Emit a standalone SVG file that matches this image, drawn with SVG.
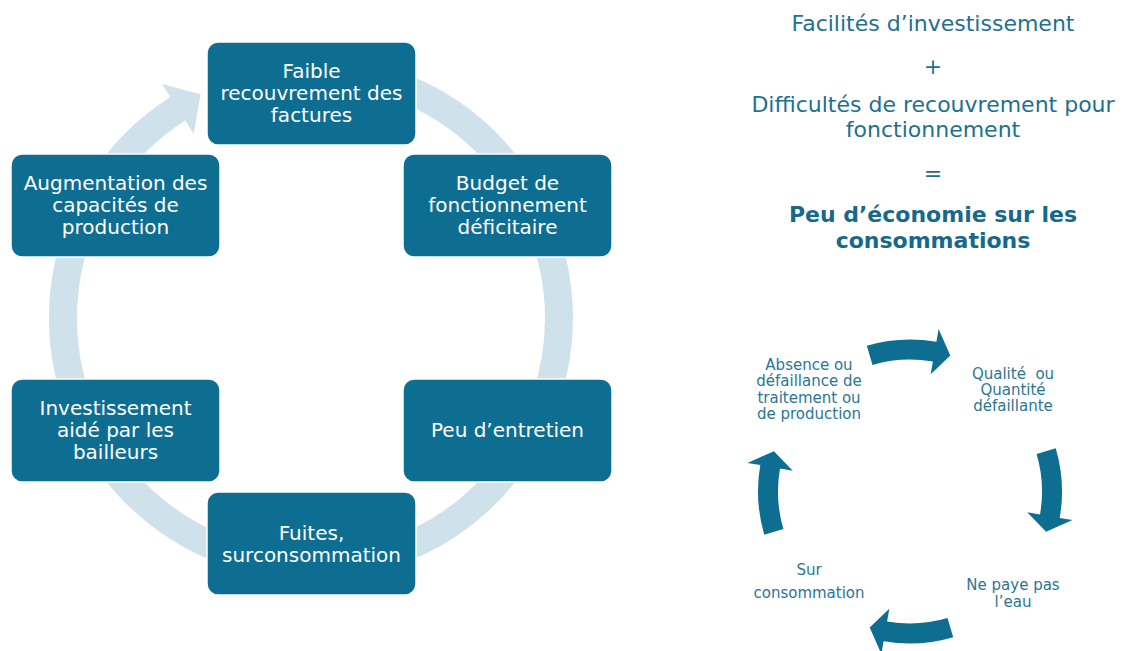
<svg xmlns="http://www.w3.org/2000/svg" width="1123" height="651" viewBox="0 0 1123 651">
<style>
.box{fill:#0e6e92;stroke:#ffffff;stroke-width:1.5}
.bt{font-family:"DejaVu Sans",Verdana,sans-serif;font-size:20px;fill:#ffffff;text-anchor:middle}
.ht{font-family:"DejaVu Sans",Verdana,sans-serif;font-size:22px;fill:#22708f;text-anchor:middle}
.hb{font-weight:bold;fill:#17698b}
.st{font-family:"DejaVu Sans",Verdana,sans-serif;font-size:15px;fill:#2a7696;text-anchor:middle}
.arr{fill:#0e6e92}
</style>
<defs>
<path id="carr" d="M 866.8 345.8 A 152 152 0 0 1 936.4 341.8 L 938.6 329.0 L 950.3 355.4 L 930.7 374.3 L 932.9 361.5 A 132 132 0 0 0 872.5 364.9 Z"/>
</defs>
<rect width="1123" height="651" fill="#ffffff"/>
<g id="connectors">
<path d="M 311 70 A 248 248 0 1 1 177.8 108.8" fill="none" stroke="#cfe1ea" stroke-width="28"/>
<polygon points="161.9,83.9 200.6,94.3 193.7,133.7" fill="#cfe1ea"/>
<use href="#carr" class="arr"/>
<use href="#carr" class="arr" transform="rotate(90 910 491.5)"/>
<use href="#carr" class="arr" transform="rotate(180 910 491.5)"/>
<use href="#carr" class="arr" transform="rotate(270 910 491.5)"/>
</g>
<g id="n-faible">
<rect class="box" x="207" y="42" width="209" height="103" rx="11"/>
<text class="bt" x="311.5" y="78">Faible</text>
<text class="bt" x="311.5" y="100">recouvrement des</text>
<text class="bt" x="311.5" y="122">factures</text>
</g>
<g id="n-budget">
<rect class="box" x="403" y="154" width="209" height="103" rx="11"/>
<text class="bt" x="507.5" y="190">Budget de</text>
<text class="bt" x="507.5" y="212">fonctionnement</text>
<text class="bt" x="507.5" y="234">déficitaire</text>
</g>
<g id="n-entretien">
<rect class="box" x="403" y="379" width="209" height="103" rx="11"/>
<text class="bt" x="507.5" y="437">Peu d’entretien</text>
</g>
<g id="n-fuites">
<rect class="box" x="207" y="492" width="209" height="103" rx="11"/>
<text class="bt" x="311.5" y="540">Fuites,</text>
<text class="bt" x="311.5" y="562">surconsommation</text>
</g>
<g id="n-invest">
<rect class="box" x="11" y="379" width="209" height="103" rx="11"/>
<text class="bt" x="115.5" y="415">Investissement</text>
<text class="bt" x="115.5" y="437">aidé par les</text>
<text class="bt" x="115.5" y="459">bailleurs</text>
</g>
<g id="n-augment">
<rect class="box" x="11" y="154" width="209" height="103" rx="11"/>
<text class="bt" x="115.5" y="190">Augmentation des</text>
<text class="bt" x="115.5" y="212">capacités de</text>
<text class="bt" x="115.5" y="234">production</text>
</g>
<g id="equation">
<text class="ht" x="933" y="31">Facilités d’investissement</text>
<text class="ht" x="933" y="74">+</text>
<text class="ht" x="933" y="112">Difficultés de recouvrement pour</text>
<text class="ht" x="933" y="137">fonctionnement</text>
<text class="ht" x="933" y="181">=</text>
<text class="ht hb" x="933" y="222">Peu d’économie sur les</text>
<text class="ht hb" x="933" y="248">consommations</text>
</g>
<g id="c-absence">
<text class="st" x="809" y="370">Absence ou</text>
<text class="st" x="809" y="386">défaillance de</text>
<text class="st" x="809" y="403">traitement ou</text>
<text class="st" x="809" y="419">de production</text>
</g>
<g id="c-qualite">
<text class="st" x="1013" y="379" xml:space="preserve">Qualité  ou</text>
<text class="st" x="1013" y="395">Quantité</text>
<text class="st" x="1013" y="411">défaillante</text>
</g>
<g id="c-paye">
<text class="st" x="1013" y="590">Ne paye pas</text>
<text class="st" x="1013" y="607">l’eau</text>
</g>
<g id="c-sur">
<text class="st" x="809" y="575">Sur</text>
<text class="st" x="809" y="598">consommation</text>
</g>
</svg>
